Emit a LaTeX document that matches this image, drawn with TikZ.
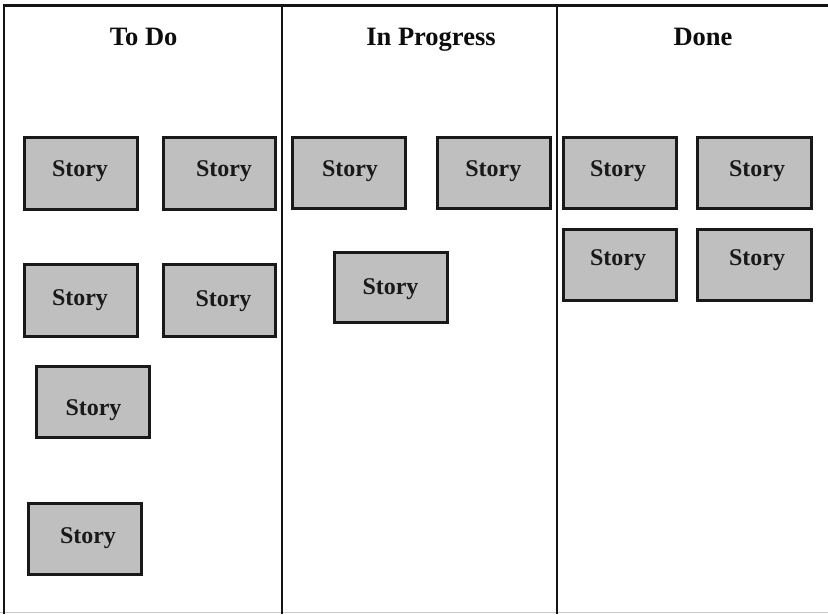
\documentclass[tikz,border=0pt]{standalone}
\usepackage{fontspec}
\setmainfont{Liberation Serif}
\begin{document}
\begin{tikzpicture}[x=1pt,y=-1pt,
  storybox/.style={draw=black!90,fill=black!25,line width=2.7pt,minimum width=113.3pt,minimum height=71.5pt,inner sep=0pt,outer sep=0pt},
  storytext/.style={anchor=base,inner sep=0pt,font=\fontsize{24}{24}\selectfont\bfseries,text=black!90},
  titletext/.style={anchor=base,inner sep=0pt,font=\fontsize{26.5}{26.5}\selectfont\bfseries,text=black!95},
  frameline/.style={line width=2.6pt,draw=black!92},
  baseline/.style={line width=1.2pt,draw=black!22}]
\useasboundingbox (0,0) rectangle (828,614);
% frame
\coordinate (tl) at (4,5.7);
\coordinate (tr) at (828,5.7);
\coordinate (bl) at (4,614);
\coordinate (d1t) at (282,5.7);
\coordinate (d1b) at (282,614);
\coordinate (d2t) at (557,5.7);
\coordinate (d2b) at (557,614);
\coordinate (gl) at (0,612.8);
\coordinate (gr) at (828,612.8);
\draw[baseline] (gl) -- (gr);
\draw[frameline] (bl) -- (tl) -- (tr);
\draw[frameline] (d1t) -- (d1b);
\draw[frameline] (d2t) -- (d2b);
% titles
\node[titletext] (ttodo) at (143.7,45) {To Do};
\node[titletext] (tprog) at (431,45) {In Progress};
\node[titletext] (tdone) at (703,45) {Done};
% To Do boxes
\node[storybox] (td1) at (81,173.5) {};
\node[storybox,minimum width=112.3pt] (td2) at (219.5,173.5) {};
\node[storybox] (td3) at (81,300.5) {};
\node[storybox,minimum width=112.3pt] (td4) at (219.5,300.5) {};
\node[storybox] (td5) at (93,402) {};
\node[storybox] (td6) at (85,539) {};
% In Progress boxes
\node[storybox] (ip1) at (349,173) {};
\node[storybox] (ip2) at (494,173) {};
\node[storybox,minimum height=70.5pt] (ip3) at (391,287.5) {};
% Done boxes
\node[storybox] (dn1) at (620,173) {};
\node[storybox,minimum width=114.3pt] (dn2) at (754.5,173) {};
\node[storybox] (dn3) at (620,265) {};
\node[storybox,minimum width=114.3pt] (dn4) at (754.5,265) {};
% labels
\node[storytext] (ltd1) at (80,176) {Story};
\node[storytext] (ltd2) at (224,176) {Story};
\node[storytext] (ltd3) at (80,305.7) {Story};
\node[storytext] (ltd4) at (223.5,306) {Story};
\node[storytext] (ltd5) at (93.5,415) {Story};
\node[storytext] (ltd6) at (88,543) {Story};
\node[storytext] (lip1) at (350,176) {Story};
\node[storytext] (lip2) at (493.3,176) {Story};
\node[storytext] (lip3) at (390.5,294) {Story};
\node[storytext] (ldn1) at (618,176) {Story};
\node[storytext] (ldn2) at (757,176) {Story};
\node[storytext] (ldn3) at (618,265) {Story};
\node[storytext] (ldn4) at (757,265) {Story};
\end{tikzpicture}
\end{document}
